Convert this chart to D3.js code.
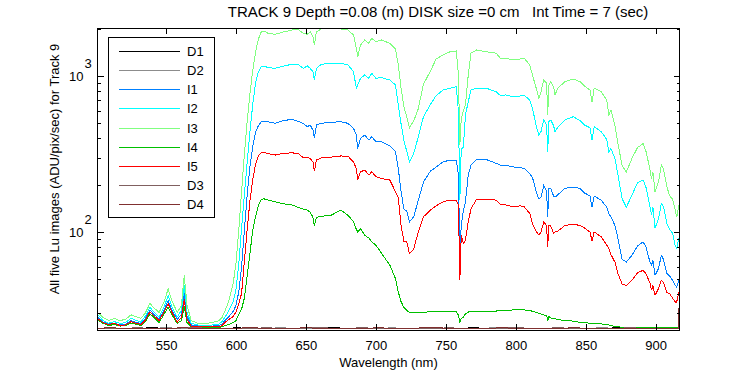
<!DOCTYPE html>
<html>
<head>
<meta charset="utf-8">
<script src="https://cdn.jsdelivr.net/npm/d3@7"></script>
<style>
body { margin: 0; background: #fff; }
text { font-family: "Liberation Sans", Arial, sans-serif; font-size: 13px; fill: #000; }
</style>
</head>
<body>
<div id="chart"></div>
<script>
// wavelengths (nm) shared by the five image spectra
var wl = [
  501, 505, 509, 513, 517, 521, 525, 528, 532, 535, 538.5, 541, 545, 548.5, 551.5, 554, 558, 561, 563, 565, 568, 573, 578, 583, 588, 590,
  592, 595, 598, 600, 602, 604, 606, 608, 610, 612, 614, 616, 618, 620,
  623, 628, 633, 640, 645, 648, 651, 653, 655, 656, 657.5, 661, 668, 675, 680, 684, 686, 687, 689, 692, 695, 697, 700,
  704, 710, 714, 716, 718, 720, 722, 724, 727, 730, 734, 739, 743, 748, 753, 757.5, 759, 760, 761, 762.5, 764, 766, 768, 772, 779, 786, 789, 793, 798,
  803, 806, 810, 812, 815, 816.5, 818, 820, 822, 822.8, 823.6, 825, 827, 828, 830, 835, 841, 846, 849, 853, 854.5, 856, 861, 865, 866.5, 868, 871, 873, 876, 879, 883, 887, 891, 893, 896, 897, 898, 899.5, 902, 904, 905.5, 908, 910, 912, 914, 915, 916.5
];

var I1 = [
  28.5, 26.4, 25.7, 26.0, 25.3, 25.5, 27.0, 26.4, 25.9, 27.7, 31.6, 29.8, 27.7, 31.4, 36.4, 31.6, 27.5, 29.6, 40.4, 28.7, 25.3, 24.9, 24.9, 24.9, 25.1, 25.7,
  27.0, 28.7, 30.9, 33.8, 41.4, 60.2, 103, 173, 263, 354, 435, 480, 507, 509,
  509, 497, 515, 528, 509, 497, 473, 485, 450, 398, 485, 497, 505, 509, 497, 462, 418, 343, 398, 418, 388, 408, 379,
  379, 357, 327, 255, 181, 140, 136, 116, 125, 156, 209, 246, 260, 281, 289, 289, 232, 70.8, 110, 136, 156, 232, 268, 293, 291, 275, 268, 268, 261,
  259, 255, 237, 222, 176, 163, 167, 199, 183, 125, 190, 190, 170, 167, 173, 190, 194, 190, 178, 170, 144, 170, 160, 144, 131, 125, 109, 90.8, 66.8, 64.2, 70.8, 81.4, 86.2, 80.2, 63.6, 61.1, 65.8, 52.7, 58.2, 70.8, 66.8, 54.1, 52.2, 48.9, 45.4, 44.3, 48.9
];

var I2 = [
  29.6, 27.0, 26.0, 26.6, 25.9, 26.2, 27.9, 27.2, 26.4, 28.7, 32.8, 30.9, 28.5, 32.8, 39.2, 33.3, 28.5, 31.4, 45.4, 30.5, 25.9, 25.3, 25.3, 25.3, 25.7, 26.6,
  28.3, 31.4, 35.8, 42.8, 62.9, 106, 174, 280, 444, 661, 902, 1061, 1142, 1159,
  1130, 1120, 1154, 1188, 1176, 1120, 1159, 1120, 1066, 943, 1120, 1188, 1206, 1206, 1176, 1066, 834, 876, 967, 1015, 967, 1040, 967,
  975, 943, 876, 652, 492, 386, 330, 281, 319, 398, 548, 658, 748, 813, 834, 854, 590, 160, 343, 347, 562, 684, 813, 834, 834, 793, 748, 756, 737,
  744, 752, 702, 614, 462, 418, 440, 522, 485, 327, 509, 522, 480, 440, 469, 522, 548, 517, 485, 466, 388, 473, 440, 392, 327, 343, 293, 232, 163, 144, 172, 207, 215, 194, 144, 128, 144, 106, 121, 152, 146, 113, 104, 98.2, 81.4, 78.2, 90.8
];

var I3 = [
  30.5, 28.3, 27.0, 27.9, 27.0, 27.5, 29.4, 28.7, 27.9, 30.0, 34.8, 32.8, 30.5, 35.3, 43.2, 36.4, 30.5, 33.8, 52.7, 33.8, 27.0, 25.9, 25.9, 26.2, 27.0, 28.3,
  30.9, 36.4, 46.8, 62.9, 103, 183, 316, 515, 778, 1093, 1425, 1726, 1915, 1943,
  1878, 1850, 1906, 1972, 1972, 1878, 1850, 1923, 1786, 1580, 1923, 2001, 2022, 2001, 1972, 1830, 1505, 1330, 1580, 1701, 1620, 1744, 1658,
  1701, 1620, 1490, 1176, 834, 635, 548, 466, 515, 605, 885, 1077, 1285, 1364, 1431, 1447, 1015, 361, 536, 596, 652, 1015, 1400, 1468, 1431, 1400, 1298, 1298, 1267,
  1285, 1298, 1176, 1005, 810, 720, 793, 943, 898, 562, 876, 919, 854, 756, 834, 919, 957, 919, 863, 813, 684, 834, 793, 702, 562, 605, 473, 370, 265, 243, 296, 348, 368, 330, 249, 220, 243, 181, 209, 268, 254, 194, 170, 163, 138, 124, 148
];

var I4 = [
  27.2, 25.9, 25.1, 25.5, 24.9, 25.1, 26.0, 25.7, 25.1, 26.4, 29.8, 28.5, 26.2, 29.6, 33.0, 29.6, 25.9, 27.0, 33.3, 26.2, 24.7, 24.5, 24.4, 24.4, 24.4, 24.7,
  25.1, 25.5, 26.2, 27.0, 29.6, 32.0, 37.7, 52.7, 73.3, 103, 126, 148, 161, 163,
  160, 156, 152, 149, 143, 140, 138, 134, 124, 110, 124, 126, 128, 138, 128, 116, 104, 100, 105, 95.4, 91.2, 86.4, 82.2,
  73.0, 61.1, 50.2, 41.2, 35.7, 32.8, 31.4, 30.4, 30.6, 30.6, 30.6, 30.7, 30.8, 30.8, 30.9, 30.9, 29.2, 26.3, 27.8, 28.4, 29.9, 30.6, 31.1, 31.1, 31.1, 31.1, 31.2, 31.3, 31.6,
  31.7, 31.6, 31.4, 30.9, 30.4, 30.0, 29.8, 29.3, 29.2, 27.0, 28.7, 28.1, 27.9, 27.7, 27.5, 27.0, 26.8, 26.3, 26.2, 26.0, 25.9, 25.9, 25.7, 25.5, 25.3, 25.2, 24.7, 24.6, 24.5, 24.5, 24.4, 24.4, 24.4, 24.5, 24.4, 24.4, 24.5, 24.4, 24.4, 24.4, 24.5, 24.4, 24.4, 24.4, 24.5, 24.4, 24.4
];

var I5 = [
  27.9, 26.2, 25.5, 25.9, 25.1, 25.3, 26.6, 26.0, 25.5, 27.0, 30.7, 29.2, 27.0, 30.5, 34.8, 30.7, 26.4, 28.3, 36.9, 27.5, 24.9, 24.7, 24.6, 24.6, 24.7, 25.1,
  26.2, 27.5, 28.7, 30.7, 34.8, 40.4, 65.1, 104, 159, 218, 272, 309, 322, 323,
  318, 311, 318, 322, 316, 299, 300, 296, 281, 246, 289, 299, 302, 307, 306, 281, 255, 215, 243, 249, 232, 243, 226,
  220, 215, 181, 165, 110, 87.3, 86.4, 72.6, 77.5, 97.8, 125, 138, 147, 156, 160, 160, 149, 48.9, 95.4, 84.3, 88.6, 116, 141, 162, 162, 160, 150, 149, 145,
  147, 145, 131, 112, 99.6, 95.4, 100, 116, 110, 80.2, 110, 109, 97.9, 100, 101, 110, 112, 110, 106, 100, 87.3, 100, 93.1, 82.2, 78.2, 71.6, 63.6, 54.1, 46.3, 45.4, 48.9, 54.8, 56.7, 54.1, 46.6, 42.2, 45.4, 39.2, 43.3, 48.9, 47.3, 40.8, 40.2, 37.7, 35.5, 35.5, 41.2
];

// dark frames
var wlDark = [501, 511, 521, 531, 541, 551, 561, 571, 581, 591, 601, 611, 621, 631, 641, 651, 661, 671, 681, 691, 701, 711, 721, 731, 741, 751, 761, 771, 781, 791, 801, 811, 821, 831, 841, 851, 861, 871, 881, 891, 901, 911, 916, 916.6];
var D1 = [24.0, 24.2, 23.9, 24.1, 24.3, 24.0, 23.9, 24.2, 24.1, 24.0, 24.3, 23.9, 24.1, 24.0, 24.2, 23.9, 24.1, 24.3, 24.0, 23.9, 24.2, 24.0, 24.1, 23.9, 24.2, 24.0, 24.1, 24.3, 23.9, 24.0, 24.2, 24.1, 23.9, 24.0, 24.2, 24.1, 23.9, 24.3, 24.0, 24.1, 23.9, 24.2, 24.0, 24.1];
var D2 = [24.1, 23.9, 24.2, 24.0, 24.1, 24.3, 24.0, 23.9, 24.2, 24.1, 23.9, 24.2, 24.0, 24.3, 24.1, 24.0, 23.9, 24.1, 24.2, 24.0, 23.9, 24.3, 24.0, 24.2, 24.1, 23.9, 24.0, 24.1, 24.2, 24.3, 23.9, 24.0, 24.2, 24.1, 23.9, 24.0, 24.3, 24.1, 24.2, 23.9, 24.0, 24.1, 24.0, 24.2];
var D3 = [24.2, 24.0, 24.1, 24.3, 23.9, 24.1, 24.2, 24.4, 24.0, 24.1, 24.2, 24.0, 24.3, 24.1, 23.9, 24.2, 24.4, 24.0, 24.1, 24.3, 24.0, 24.1, 24.2, 24.0, 23.9, 24.3, 24.1, 24.0, 24.2, 24.1, 24.4, 24.0, 24.1, 24.3, 24.0, 24.2, 24.1, 24.0, 24.3, 24.1, 24.2, 24.0, 24.1, 24.2];
var D4 = [24.1, 24.3, 24.0, 24.2, 24.1, 24.0, 24.3, 24.1, 24.2, 24.0, 24.1, 24.4, 24.0, 24.2, 24.1, 24.3, 24.0, 24.2, 24.1, 24.0, 24.3, 24.1, 24.0, 24.2, 24.4, 24.1, 24.0, 24.2, 24.1, 24.3, 24.0, 24.1, 24.2, 24.0, 24.3, 24.1, 24.2, 24.0, 24.1, 24.2, 24.0, 24.1, 24.1, 32.5];

var legendNames = ['D1', 'D2', 'I1', 'I2', 'I3', 'I4', 'I5', 'D3', 'D4'];
var colors = ['#000000', '#8c8c8c', '#0080ff', '#00ffff', '#80ff80', '#00c000', '#ff0000', '#806060', '#803030'];
var xTicks = [550, 600, 650, 700, 750, 800, 850, 900];
var yMajor = [100, 1000];
var yMinor = [30, 40, 50, 60, 70, 80, 90, 200, 300, 400, 500, 600, 700, 800, 900, 2000];

var series = [
  { name: 'D1', x: wlDark, v: D1 },
  { name: 'D2', x: wlDark, v: D2 },
  { name: 'I1', x: wl, v: I1 },
  { name: 'I2', x: wl, v: I2 },
  { name: 'I3', x: wl, v: I3 },
  { name: 'I4', x: wl, v: I4 },
  { name: 'I5', x: wl, v: I5 },
  { name: 'D3', x: wlDark, v: D3 },
  { name: 'D4', x: wlDark, v: D4 }
];

var W = 750, H = 375;
var m = { left: 97.5, right: 679.5, top: 28, bottom: 330 };

var svg = d3.select('#chart').append('svg')
  .attr('width', W)
  .attr('height', H);

var x = d3.scaleLinear().domain([501, 917]).range([m.left, m.right]);
var y = d3.scaleLog().domain([23.5, 2031]).range([m.bottom, m.top]);

svg.append('clipPath').attr('id', 'plot')
  .append('rect')
  .attr('x', m.left).attr('y', m.top)
  .attr('width', m.right - m.left).attr('height', m.bottom - m.top);

var line = d3.line()
  .x(function(d) { return x(d[0]); })
  .y(function(d) { return y(d[1]); });

// curves
svg.append('g').attr('clip-path', 'url(#plot)')
  .selectAll('path')
  .data(series)
  .enter().append('path')
  .attr('d', function(s) {
    return line(s.x.map(function(xv, i) { return [xv, s.v[i]]; }));
  })
  .attr('fill', 'none')
  .attr('stroke', function(s) { return colors[legendNames.indexOf(s.name)]; })
  .attr('stroke-width', 1)
  .attr('shape-rendering', 'crispEdges');

// axes, ticks pointing inwards
var gx = svg.append('g').attr('transform', 'translate(0,' + m.bottom + ')')
  .call(d3.axisBottom(x).tickValues(xTicks).tickSizeInner(-6).tickSizeOuter(0).tickPadding(11));
svg.append('g').attr('transform', 'translate(0,' + m.top + ')')
  .call(d3.axisTop(x).tickValues(xTicks).tickSizeInner(-6).tickSizeOuter(0).tickFormat(''));

svg.append('g').attr('transform', 'translate(' + m.left + ',0)')
  .call(d3.axisLeft(y).tickValues(yMajor).tickSizeInner(-6).tickSizeOuter(0).tickFormat(''));
svg.append('g').attr('transform', 'translate(' + m.left + ',0)')
  .call(d3.axisLeft(y).tickValues(yMinor).tickSizeInner(-3).tickSizeOuter(0).tickFormat(''));
svg.append('g').attr('transform', 'translate(' + m.right + ',0)')
  .call(d3.axisRight(y).tickValues(yMajor).tickSizeInner(-6).tickSizeOuter(0).tickFormat(''));
svg.append('g').attr('transform', 'translate(' + m.right + ',0)')
  .call(d3.axisRight(y).tickValues(yMinor).tickSizeInner(-3).tickSizeOuter(0).tickFormat(''));

svg.selectAll('.domain').remove();
svg.selectAll('.tick line').attr('stroke', '#000').attr('shape-rendering', 'crispEdges');
gx.selectAll('.tick text').style('font-size', '13px').attr('fill', '#000');

// log tick labels 10^n
yMajor.forEach(function(v) {
  svg.append('text')
    .attr('x', m.left - 14)
    .attr('y', y(v) + 5)
    .attr('text-anchor', 'end')
    .text('10');
  svg.append('text')
    .attr('x', m.left - 13)
    .attr('y', y(v) - 8)
    .text(Math.round(Math.log10(v)));
});

// frame
svg.append('rect')
  .attr('x', m.left).attr('y', m.top)
  .attr('width', m.right - m.left).attr('height', m.bottom - m.top)
  .attr('fill', 'none').attr('stroke', '#000')
  .attr('shape-rendering', 'crispEdges');

// titles
svg.append('text')
  .attr('x', 438)
  .attr('y', 17)
  .attr('text-anchor', 'middle')
  .style('white-space', 'pre')
  .style('font-size', '15px')
  .text('TRACK 9 Depth =0.08 (m) DISK size =0 cm   Int Time = 7 (sec)');

svg.append('text')
  .attr('x', (m.left + m.right) / 2)
  .attr('y', 367)
  .attr('text-anchor', 'middle')
  .text('Wavelength (nm)');

svg.append('text')
  .attr('transform', 'translate(59,169) rotate(-90)')
  .attr('text-anchor', 'middle')
  .text('All five Lu images (ADU/pix/sec) for Track 9');

// legend
var lg = svg.append('g');
lg.append('rect')
  .attr('x', 108).attr('y', 37)
  .attr('width', 106).attr('height', 180)
  .attr('fill', '#fff').attr('stroke', '#000')
  .attr('shape-rendering', 'crispEdges');

var rows = lg.selectAll('.row')
  .data(legendNames)
  .enter().append('g')
  .attr('class', 'row')
  .attr('transform', function(d, i) { return 'translate(0,' + Math.round(51 + i * 19.15) + ')'; });

rows.append('line')
  .attr('x1', 119).attr('x2', 180)
  .attr('y1', 0.5).attr('y2', 0.5)
  .attr('stroke', function(d, i) { return colors[i]; })
  .attr('shape-rendering', 'crispEdges');

rows.append('text')
  .attr('x', 187)
  .attr('y', 5)
  .text(function(d) { return d; });
</script>
</body>
</html>
